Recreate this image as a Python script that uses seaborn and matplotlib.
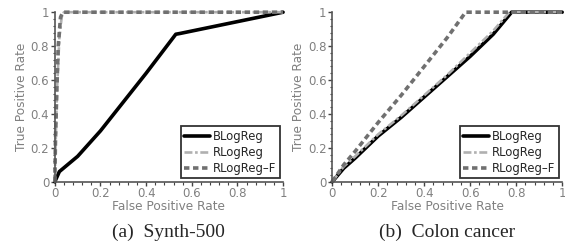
import numpy as np
import pandas as pd
import seaborn as sns
import matplotlib.pyplot as plt
from matplotlib.ticker import MultipleLocator, AutoMinorLocator, FuncFormatter

# ROC points
synth_b_fpr = [0, 0.02, 0.1, 0.2, 0.3, 0.4, 0.53, 0.55, 1.0]
synth_b_tpr = [0, 0.06, 0.15, 0.3, 0.47, 0.64, 0.87, 0.875, 1.0]
synth_r_fpr = [0, 0.005, 0.01, 0.02, 0.03, 0.04, 1.0]
synth_r_tpr = [0, 0.3, 0.55, 0.85, 0.97, 1.0, 1.0]
synth_f_fpr = [0, 0.003, 0.008, 0.015, 0.025, 0.035, 1.0]
synth_f_tpr = [0, 0.25, 0.5, 0.8, 0.97, 1.0, 1.0]

colon_b_fpr = [0, 0.05, 0.1, 0.2, 0.3, 0.4, 0.5, 0.6, 0.7, 0.78, 1.0]
colon_b_tpr = [0, 0.08, 0.14, 0.27, 0.38, 0.5, 0.62, 0.74, 0.87, 1.0, 1.0]
colon_r_fpr = [0, 0.05, 0.1, 0.2, 0.3, 0.4, 0.5, 0.6, 0.7, 0.77, 1.0]
colon_r_tpr = [0, 0.09, 0.15, 0.28, 0.39, 0.51, 0.63, 0.76, 0.89, 1.0, 1.0]
colon_f_fpr = [0, 0.05, 0.1, 0.2, 0.3, 0.4, 0.5, 0.58, 1.0]
colon_f_tpr = [0, 0.1, 0.18, 0.35, 0.51, 0.68, 0.85, 1.0, 1.0]

methods = ['BLogReg', 'RLogReg', 'RLogReg\u2013F']
captions = ['(a)  Synth-500', '(b)  Colon cancer']

sns.set_style('white')
plt.rcParams['font.family'] = ['DejaVu Sans']

styles = {
    'BLogReg': dict(color='black', lw=2.6, ls='-'),
    'RLogReg': dict(color='#b0b0b0', lw=1.9, ls=(0, (3, 1, 1, 1))),
    'RLogReg\u2013F': dict(color='#707070', lw=2.6, ls=(0, (1.5, 1))),
}

def make_df(fprs, tprs):
    rows = []
    for m, f, t in zip(methods, fprs, tprs):
        for a, b in zip(f, t):
            rows.append({'method': m, 'fpr': a, 'tpr': b})
    return pd.DataFrame(rows)

dfs = [
    make_df([synth_b_fpr, synth_r_fpr, synth_f_fpr], [synth_b_tpr, synth_r_tpr, synth_f_tpr]),
    make_df([colon_b_fpr, colon_r_fpr, colon_f_fpr], [colon_b_tpr, colon_r_tpr, colon_f_tpr]),
]

fig = plt.figure(figsize=(5.65, 2.49), dpi=100)
boxes = [[0.097, 0.27, 0.404, 0.681], [0.588, 0.27, 0.407, 0.681]]
grey = '#808080'
fmt = FuncFormatter(lambda v, p: '%g' % round(v, 2))

for box, df, cap in zip(boxes, dfs, captions):
    ax = fig.add_axes(box)
    for m in methods:
        sub = df[df['method'] == m]
        sns.lineplot(data=sub, x='fpr', y='tpr', sort=False, ax=ax,
                     label=m, **styles[m])
    ax.set_xlim(0, 1)
    ax.set_ylim(0, 1)
    ax.xaxis.set_major_locator(MultipleLocator(0.2))
    ax.yaxis.set_major_locator(MultipleLocator(0.2))
    ax.xaxis.set_minor_locator(AutoMinorLocator(5))
    ax.yaxis.set_minor_locator(AutoMinorLocator(5))
    ax.xaxis.set_major_formatter(fmt)
    ax.yaxis.set_major_formatter(fmt)
    ax.tick_params(which='major', direction='out', length=3, width=1, color='#444444',
                   labelsize=8.5, labelcolor=grey, pad=1, bottom=True, left=True)
    ax.tick_params(which='minor', direction='out', length=1.8, width=0.8, color='#444444',
                   bottom=True, left=True)
    for s in ['top', 'right']:
        ax.spines[s].set_visible(False)
    for s in ['left', 'bottom']:
        ax.spines[s].set_color('#555555')
        ax.spines[s].set_linewidth(1.2)
    ax.set_xlabel('False Positive Rate', fontsize=8.7, color=grey, labelpad=0)
    ax.set_ylabel('True Positive Rate', fontsize=8.7, color=grey, labelpad=2)
    leg = ax.legend(loc='lower right', fontsize=8.4, frameon=True, fancybox=False,
                    handlelength=2.2, handletextpad=0.25, borderpad=0.3,
                    labelspacing=0.25, borderaxespad=0.3)
    leg.get_frame().set_edgecolor('black')
    leg.get_frame().set_linewidth(1.3)
    ax.text(0.5, -0.30, cap, transform=ax.transAxes, ha='center', va='center',
            fontsize=14, family='Liberation Serif')
    for l in ax.lines:
        l.set_clip_on(False)

fig.savefig('out.png', dpi=100)
